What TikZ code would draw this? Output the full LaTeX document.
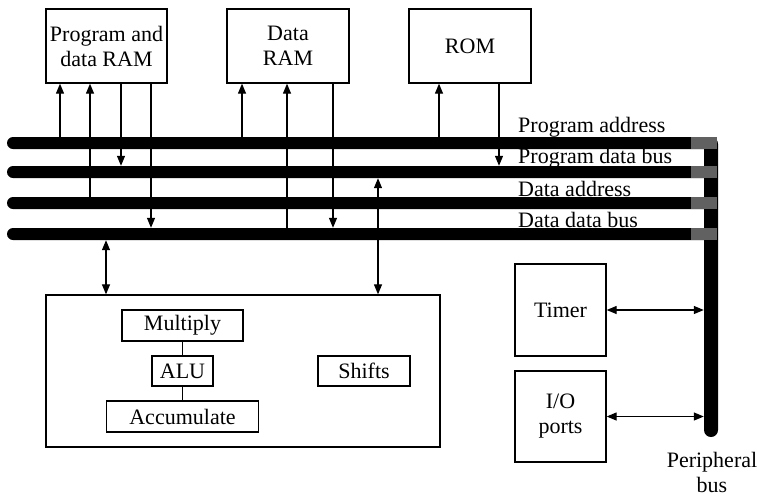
\documentclass[tikz,border=0pt]{standalone}
\usepackage{fontspec}
\setmainfont{Liberation Serif}
\usetikzlibrary{arrows.meta}
\tikzset{
  blk/.style={draw,line width=1.3pt,align=center,inner sep=0pt,
              font=\fontsize{22}{25}\selectfont},
  busbar/.style={fill=black,rounded corners=6pt,inner sep=0pt,minimum height=12pt},
  tap/.style={fill=black!62,inner sep=0pt,minimum width=26pt,minimum height=12pt},
  sig/.style={-{Triangle[length=10pt,width=8pt]},line width=1.2pt},
  bisig/.style={{Triangle[length=10pt,width=8pt]}-{Triangle[length=10pt,width=8pt]},line width=1.2pt},
  buslabel/.style={anchor=base west,inner sep=0pt,font=\fontsize{22}{25}\selectfont}
}

\begin{document}
\begin{tikzpicture}[x=1pt,y=-1pt]
  \useasboundingbox (0,0) rectangle (757,496);

  % memories
  \node[blk,minimum width=121pt,minimum height=74pt] (pdram) at (106.5,46) {Program and\\data RAM};
  \node[blk,minimum width=122pt,minimum height=74pt] (dram) at (288,46) {Data\\RAM};
  \node[blk,minimum width=122pt,minimum height=74pt] (rom) at (470,46) {ROM};

  % buses
  \node[busbar,minimum width=710pt] (pa) at (362,143) {};
  \node[busbar,minimum width=710pt] (pd) at (362,172) {};
  \node[busbar,minimum width=710pt] (da) at (362,203) {};
  \node[busbar,minimum width=710pt] (dd) at (362,234) {};
  \node[busbar,minimum width=14pt,minimum height=300pt,rounded corners=7pt] (pb) at (711,287) {};
  \foreach \b in {pa,pd,da,dd}
    \node[tap] (tap-\b) at (704,0 |- \b) {};

  \node[buslabel] (lpa) at (518,132) {Program address};
  \node[buslabel] (lpd) at (518,163) {Program data bus};
  \node[buslabel] (lda) at (518,196) {Data address};
  \node[buslabel] (ldd) at (518,227) {Data data bus};
  \node[align=center,anchor=north,inner sep=0pt,font=\fontsize{22}{25}\selectfont]
    (lpb) at (712,452) {Peripheral\\bus};

  % CPU core
  \node[blk,minimum width=394pt,minimum height=152pt] (cpu) at (243,371) {};
  \node[blk,minimum width=121pt,minimum height=31pt] (mul) at (182.5,325.5) {Multiply};
  \node[blk,minimum width=61pt,minimum height=30pt] (alu) at (182.5,371) {ALU};
  \node[blk,minimum width=152pt,minimum height=31pt] (acc) at (182.5,416.5) {Accumulate};
  \node[blk,minimum width=92pt,minimum height=30pt] (shift) at (364,371) {Shifts};
  \draw[line width=1.2pt] (mul) -- (alu);
  \draw[line width=1.2pt] (alu) -- (acc);

  % peripherals
  \node[blk,minimum width=91pt,minimum height=92pt] (timer) at (560.5,310) {Timer};
  \node[blk,minimum width=91pt,minimum height=91pt] (io) at (560.5,416.5) {I/O\\ports};

  % memory connections
  \draw[sig] (pa.north -| 60,0) -- (pdram.south -| 60,0);
  \draw[sig] (da.north -| 90,0) -- (pdram.south -| 90,0);
  \draw[sig] (pdram.south -| 121,0) -- (pd.north -| 121,0);
  \draw[sig] (pdram.south -| 151,0) -- (dd.north -| 151,0);
  \draw[sig] (pa.north -| 242,0) -- (dram.south -| 242,0);
  \draw[sig] (dd.north -| 287,0) -- (dram.south -| 287,0);
  \draw[sig] (dram.south -| 333,0) -- (dd.north -| 333,0);
  \draw[sig] (pa.north -| 439,0) -- (rom.south -| 439,0);
  \draw[sig] (rom.south -| 499,0) -- (pd.north -| 499,0);

  % core and peripheral connections
  \draw[bisig] (dd.south -| 106,0) -- (cpu.north -| 106,0);
  \draw[bisig] (pd.south -| 378,0) -- (cpu.north -| 378,0);
  \draw[bisig] (timer.east) -- (timer.east -| pb.west);
  \draw[bisig] (io.east) -- (io.east -| pb.west);
\end{tikzpicture}
\end{document}
